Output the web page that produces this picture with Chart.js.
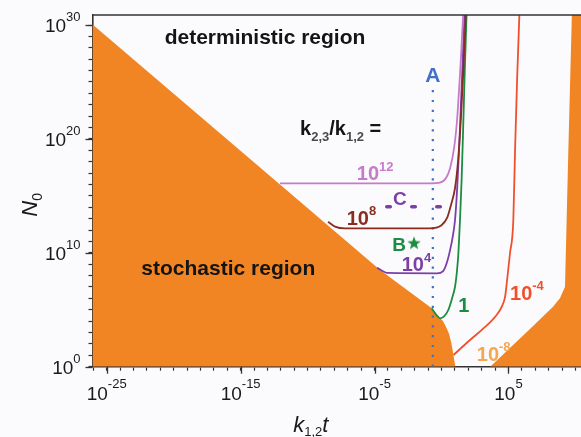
<!DOCTYPE html>
<html>
<head>
<meta charset="utf-8">
<script src="https://cdn.jsdelivr.net/npm/chart.js@4.4.1/dist/chart.umd.min.js"></script>
<style>
  html, body { margin: 0; padding: 0; background: #fbfbfd; }
  #wrap { width: 581px; height: 437px; }
</style>
</head>
<body>
<div id="wrap"><canvas id="chart" width="581" height="437"></canvas></div>
<script>
// Values. x = k12*t, y = N0 (both log scales)
const xRange = [8.7e-27, 2.6e10];
const yRange = [1, 7.6e30];
const xMajor = [1e-25, 1e-15, 1e-5, 1e5];
const xMajorExp = ['-25', '-15', '-5', '5'];
const yMajor = [1, 1e10, 1e20, 1e30];
const yMajorExp = ['0', '10', '20', '30'];

// stochastic regions (orange), boundary points
const leftRegionX = [1e-27, 2.6e-5, 3.2e-3, 0.186, 0.39, 0.78, 1.31, 2.19, 3.7, 5.2, 7.4, 9.4, 11.2];
const leftRegionY = [1e31, 3.1e8, 4.7e6, 1.35e5, 5e4, 1.9e4, 1.0e4, 3.1e3, 7.4e2, 1.5e2, 16, 2.6, 1];
const rightRegionX = [4.3e3, 6.9e6, 2.2e8, 7.1e8, 1.66e9, 2.2e9, 2.95e9, 5.4e9, 5.6e9, 1e12];
const rightRegionY = [1, 3.7e3, 1.9e5, 1.07e6, 1.05e7, 7.6e12, 1.07e19, 7.6e30, 1.6e32, 1.6e32];

// k23/k12 curves
const r12X = [8.7e-13, 0.138, 0.78, 2.19, 4.4, 8.7, 14.5, 20.4, 29, 41, 48];
const r12Y = [1.26e16, 1.26e16, 1.48e16, 3.7e16, 2.8e17, 1.6e19, 4.6e21, 2.0e24, 2.3e27, 7.6e30, 1.6e32];
const r8X = [3.4e-9, 1.12e-8, 6.3e-8, 0.138, 0.93, 2.6, 5.1, 10.2, 17.4, 29, 41, 58, 69];
const r8Y = [5.4e12, 2.0e12, 1.4e12, 1.4e12, 2.5e12, 1.15e13, 1.6e14, 4.9e15, 1.4e18, 1.26e22, 4e25, 3.6e29, 1.6e32];
const r4X = [1.55e-5, 1.02e-4, 0.45, 1.32, 2.45, 4.4, 7.2, 10.2, 14.5, 20.4, 29, 41, 52, 58];
const r4Y = [4.7e8, 1.7e8, 1.58e8, 2.5e8, 1.26e9, 1.8e10, 3.6e11, 7.6e12, 3.2e15, 1.07e19, 2.6e23, 6.3e27, 7.6e30, 1.6e32];
const r0X = [0.186, 0.39, 0.78, 1.55, 3.2, 6.2, 10.2, 14.5, 18.2, 24, 31.6, 41, 52, 68, 81];
const r0Y = [1.35e5, 3.8e4, 1.78e4, 2.6e4, 9.5e4, 1.07e6, 1.05e7, 3.1e8, 9.1e9, 7.6e12, 2.5e16, 6e20, 1.5e25, 3.6e29, 1.6e32];
const rm4X = [7.8, 135, 1.8e3, 1.3e4, 3.3e4, 5.6e4, 7.9e4, 1.3e5, 2.3e5, 3.1e5, 4.4e5, 6.5e5, 7.4e5];
const rm4Y = [10.7, 2.2e2, 3.1e3, 3.5e4, 2.1e5, 1.4e6, 4.1e7, 9.1e9, 7.6e12, 1.07e19, 1.5e25, 7.6e30, 1.6e32];

// markers A, B, C
const lineAX = [0.224, 0.224];
const lineAY = [1, 3e24];
const lineCX = [8.2e-5, 1.0];
const lineCY = [1.1e14, 1.1e14];
const pointB = [8.9e-3, 7.9e10];

const FONT = "'Liberation Sans', Arial, Helvetica, sans-serif";
const ORANGE = '#f18524';
const colors = {
    r12: '#c57bc9', r8: '#8c2b20', r4: '#7b3fa6', r0: '#1c8c41', rm4: '#f14f2c', rm8: '#f6a64c',
    blue: '#4170c6', black: '#141414'
};

// text notes, anchored in data coordinates: [x, y, align, color, parts]
// parts: [text, size, weight/style, dy, color?]
const notes = [
    [6.6e-14, 2e28, 'center', colors.black, [['deterministic region', 21, 'bold', 0]]],
    [1.2e-16, 1.1e8, 'center', colors.black, [['stochastic region', 21, 'bold', 0]]],
    [2.75e-11, 2.2e20, 'left', colors.black, [['k', 20, 'bold', 0], ['2,3', 13, 'bold', 6, '#4a4a4a'], ['/k', 20, 'bold', 0], ['1,2', 13, 'bold', 6, '#4a4a4a'], [' =', 20, 'bold', 0]]],
    [4.7e-7, 2.5e16, 'left', colors.r12, [['10', 20, 'bold', 0], ['12', 13, 'bold', -9]]],
    [8.3e-8, 2.75e12, 'left', colors.r8, [['10', 20, 'bold', 0], ['8', 13, 'bold', -10]]],
    [1.07e-3, 2.5e8, 'left', colors.r4, [['10', 20, 'bold', 0], ['4', 13, 'bold', -9]]],
    [18, 6.8e4, 'left', colors.r0, [['1', 20, 'bold', 0]]],
    [1.3e5, 7.2e5, 'left', colors.rm4, [['10', 20, 'bold', 0], ['-4', 13, 'bold', -10]]],
    [430, 2.9, 'left', colors.rm8, [['10', 20, 'bold', 0], ['-8', 13, 'bold', -10]]],
    [0.224, 1.05e25, 'center', colors.blue, [['A', 21, 'bold', 0]]],
    [7.9e-4, 1.6e14, 'center', colors.r4, [['C', 19, 'bold', 0]]],
    [6.8e-4, 1.45e10, 'center', colors.r0, [['B', 19, 'bold', 0]]]
];

function pts(xs, ys) {
    return xs.map((x, i) => ({ x: x, y: ys[i] }));
}

function decadeTicks(scale) {
    const ticks = [];
    const lo = Math.ceil(Math.log10(scale.min) - 1e-9);
    const hi = Math.floor(Math.log10(scale.max) + 1e-9);
    for (let e = lo; e <= hi; e++) ticks.push({ value: Math.pow(10, e) });
    scale.ticks = ticks;
}

function starImage(r, color) {
    const c = document.createElement('canvas');
    c.width = c.height = Math.ceil(r * 2 + 2);
    const g = c.getContext('2d');
    g.translate(c.width / 2, c.height / 2 + 0.8);
    g.beginPath();
    for (let i = 0; i < 10; i++) {
        const a = -Math.PI / 2 + i * Math.PI / 5;
        const rr = i % 2 ? r * 0.42 : r;
        g.lineTo(rr * Math.cos(a), rr * Math.sin(a));
    }
    g.closePath();
    g.fillStyle = color;
    g.fill();
    return c;
}

function drawRich(ctx, parts, x, y, align, color) {
    let w = 0;
    parts.forEach(p => { ctx.font = p[2] + ' ' + p[1] + 'px ' + FONT; w += ctx.measureText(p[0]).width; });
    let cx = align === 'center' ? x - w / 2 : align === 'right' ? x - w : x;
    ctx.textAlign = 'left';
    ctx.textBaseline = 'alphabetic';
    parts.forEach(p => {
        ctx.font = p[2] + ' ' + p[1] + 'px ' + FONT;
        ctx.fillStyle = p[4] || color;
        ctx.fillText(p[0], cx, y + p[3]);
        cx += ctx.measureText(p[0]).width;
    });
}

const decorations = {
    id: 'decorations',
    afterDatasetsDraw(chart) {
        const ctx = chart.ctx;
        const area = chart.chartArea;
        const xs = chart.scales.x, ys = chart.scales.y;
        ctx.save();
        // top frame line
        ctx.strokeStyle = '#333';
        ctx.lineWidth = 1.6;
        ctx.beginPath();
        ctx.moveTo(area.left, area.top);
        ctx.lineTo(area.right + 1, area.top);
        ctx.stroke();

        // longer major ticks
        ctx.lineWidth = 1.3;
        xMajor.forEach(v => {
            const px = Math.round(xs.getPixelForValue(v)) + 0.5;
            ctx.beginPath(); ctx.moveTo(px, area.bottom); ctx.lineTo(px, area.bottom + 7); ctx.stroke();
        });
        yMajor.forEach(v => {
            const py = Math.round(ys.getPixelForValue(v)) + 0.5;
            ctx.beginPath(); ctx.moveTo(area.left - 7, py); ctx.lineTo(area.left, py); ctx.stroke();
        });

        // tick labels
        xMajor.forEach((v, i) => {
            drawRich(ctx, [['10', 19, 'normal', 0], [xMajorExp[i], 13, 'normal', -12]],
                xs.getPixelForValue(v), area.bottom + 33, 'center', '#1a1a1a');
        });
        yMajor.forEach((v, i) => {
            drawRich(ctx, [['10', 19, 'normal', 0], [yMajorExp[i], 13, 'normal', -11]],
                area.left - 12, ys.getPixelForValue(v) + 7, 'right', '#1a1a1a');
        });

        // axis titles
        drawRich(ctx, [['k', 22, 'italic', 0], ['1,2', 13, 'normal', 4], ['t', 22, 'italic', 0]],
            (area.left + area.right) / 2 - 26, 432, 'center', '#1a1a1a');
        ctx.save();
        ctx.translate(37, (area.top + area.bottom) / 2 + 14);
        ctx.rotate(-Math.PI / 2);
        drawRich(ctx, [['N', 22, 'italic', 0], ['0', 14, 'normal', 5]], 0, 0, 'center', '#1a1a1a');
        ctx.restore();

        // notes
        notes.forEach(n => {
            drawRich(ctx, n[4], xs.getPixelForValue(n[0]), ys.getPixelForValue(n[1]), n[2], n[3]);
        });
        ctx.restore();
    }
};

const curve = (xs, ys, color) => ({
    data: pts(xs, ys), borderColor: color, borderWidth: 1.8, pointRadius: 0,
    cubicInterpolationMode: 'monotone', fill: false, order: 1
});
const region = (xs, ys) => ({
    data: pts(xs, ys), borderColor: ORANGE, borderWidth: 0, backgroundColor: ORANGE,
    pointRadius: 0, tension: 0, fill: 'start', order: 10
});

const axis = (range) => ({
    type: 'logarithmic', min: range[0], max: range[1],
    afterBuildTicks: decadeTicks,
    ticks: { display: false },
    grid: { drawOnChartArea: false, tickLength: 4, tickColor: '#333', tickWidth: 1.2 },
    border: { color: '#333', width: 1.6 }
});

new Chart(document.getElementById('chart'), {
    type: 'line',
    data: {
        datasets: [
            curve(r12X, r12Y, colors.r12),
            curve(r8X, r8Y, colors.r8),
            curve(r4X, r4Y, colors.r4),
            curve(r0X, r0Y, colors.r0),
            curve(rm4X, rm4Y, colors.rm4),
            { data: pts(lineAX, lineAY), borderColor: colors.blue, borderWidth: 2.2, borderDash: [2.2, 7.6], pointRadius: 0, order: 2 },
            { data: pts(lineCX, lineCY), borderColor: colors.r4, borderWidth: 3.6, borderDash: [3.5, 21.5], borderCapStyle: 'round', pointRadius: 0, order: 2 },
            { data: [{ x: pointB[0], y: pointB[1] }], showLine: false, pointStyle: starImage(7, colors.r0), pointRadius: 7, order: 0 },
            region(leftRegionX, leftRegionY),
            region(rightRegionX, rightRegionY)
        ]
    },
    options: {
        responsive: false,
        animation: false,
        devicePixelRatio: 1,
        layout: { autoPadding: false, padding: { left: 88.5, right: 0, top: 15, bottom: 66.3 } },
        plugins: { legend: { display: false }, tooltip: { enabled: false } },
        scales: { x: axis(xRange), y: axis(yRange) }
    },
    plugins: [decorations]
});
</script>
</body>
</html>
